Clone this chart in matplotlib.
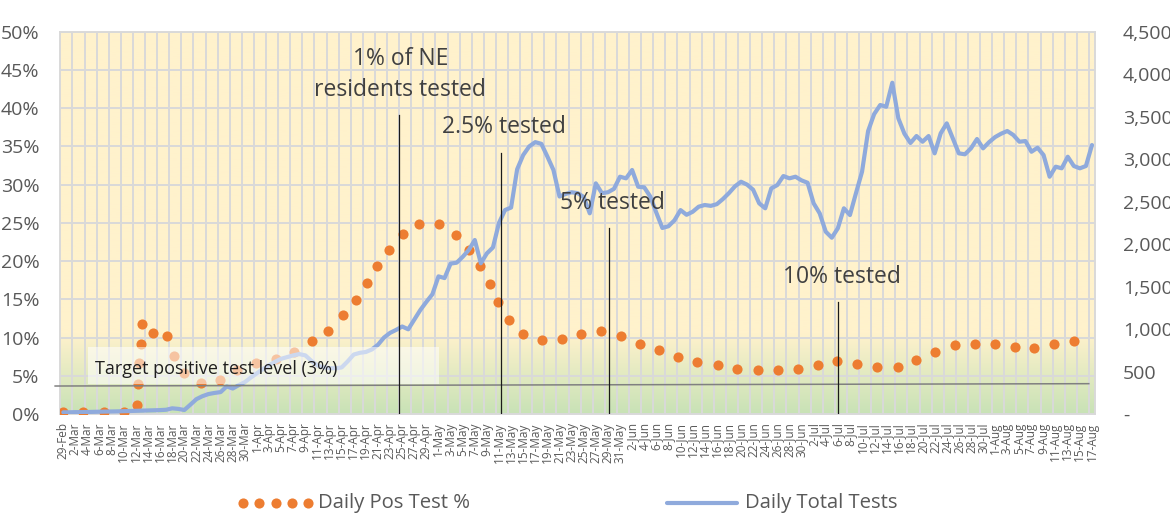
import numpy as np
import pandas as pd
import matplotlib
matplotlib.use('Agg')
import matplotlib.pyplot as plt
from matplotlib.lines import Line2D
from matplotlib.patches import Rectangle
from matplotlib.colors import to_rgb

plt.rcParams['font.family'] = ['Open Sans', 'DejaVu Sans']

# ---------------- data ----------------
dates = pd.date_range('2020-02-29', '2020-08-17', freq='D')
day_labels = [f"{d.day}-{d.strftime('%b')}" for d in dates]

total_tests = [
    20, 20, 22, 22, 24, 25, 27, 28, 30, 31,
    33, 35, 37, 40, 42, 44, 46, 50, 67, 60,
    47, 110, 175, 210, 235, 248, 258, 325, 300, 340,
    375, 430, 480, 530, 575, 615, 650, 670, 690, 705,
    690, 625, 570, 550, 540, 538, 548, 620, 700, 720,
    730, 760, 815, 900, 955, 990, 1030, 997, 1110, 1224,
    1320, 1410, 1620, 1600, 1770, 1781, 1850, 1930, 2048, 1774,
    1891, 1960, 2250, 2401, 2430, 2880, 3048, 3150, 3200, 3180,
    3030, 2872, 2560, 2590, 2610, 2600, 2555, 2362, 2715, 2600,
    2610, 2650, 2793, 2774, 2872, 2675, 2668, 2560, 2370, 2190,
    2210, 2280, 2400, 2345, 2380, 2440, 2460, 2450, 2470, 2530,
    2600, 2680, 2734, 2700, 2640, 2480, 2421, 2656, 2695, 2801,
    2774, 2793, 2750, 2722, 2480, 2362, 2146, 2075, 2186, 2421,
    2342, 2600, 2852, 3330, 3530, 3637, 3617, 3899, 3480, 3300,
    3190, 3272, 3205, 3272, 3068, 3304, 3421, 3245, 3068, 3057,
    3127, 3237, 3127, 3200, 3260, 3300, 3331, 3284, 3205, 3213,
    3087, 3134, 3048, 2793, 2911, 2892, 3028, 2919, 2892, 2919,
    3166,
]

pos_day = [0, 3.3, 6.8, 10.0, 12.1, 12.3, 12.5, 12.8, 13.05, 14.9,
           17.1, 18.3, 20.0, 22.7, 25.9, 28.7, 31.8, 35.1, 38.2, 41.1,
           43.8, 46.2, 48.3, 50.2, 51.9, 53.8, 56.2, 58.8, 62.1, 64.9,
           67.1, 68.9, 70.5, 71.9, 73.6, 75.9, 79.1, 82.4, 85.6, 88.9,
           92.2, 95.3, 98.4, 101.6, 104.8, 108.2, 111.4, 114.8, 118.1, 121.4,
           124.7, 127.9, 131.2, 134.5, 137.9, 141.0, 144.1, 147.3, 150.6, 153.9,
           157.2, 160.5, 163.8, 167.1]
pos_pct = [0.2, 0.2, 0.2, 0.2, 1.2, 3.9, 6.7, 9.2, 11.8, 10.6,
           10.2, 7.6, 5.4, 4.0, 4.4, 5.8, 6.7, 7.2, 8.1, 9.5,
           10.9, 12.9, 14.9, 17.1, 19.3, 21.5, 23.5, 24.9, 24.9, 23.4,
           21.4, 19.3, 17.0, 14.6, 12.3, 10.4, 9.7, 9.8, 10.4, 10.8,
           10.2, 9.2, 8.4, 7.4, 6.8, 6.4, 5.9, 5.7, 5.7, 5.9,
           6.4, 6.9, 6.5, 6.1, 6.2, 7.0, 8.1, 9.0, 9.2, 9.2,
           8.7, 8.6, 9.1, 9.5]

milestone_day = [55.4, 72.3, 90.2, 128.0]
milestone_top = [39.1, 34.2, 24.35, 14.7]
milestone_text = ["1% of NE\nresidents tested", "2.5% tested", "5% tested", "10% tested"]
milestone_text_x = [55.7, 72.8, 90.8, 128.6]
milestone_text_y = [44.4, 37.5, 27.6, 17.9]
target_label = "Target positive test level (3%)"
series_names = ["Daily Pos Test %", "Daily Total Tests"]

ORANGE = '#ED7D31'
BLUE = '#8FAADC'
GRID = '#D9D9D9'
TICK = '#595959'

# ---------------- figure ----------------
W, H = 1170, 521
fig = plt.figure(figsize=(W / 100, H / 100), dpi=100)
ax = fig.add_axes([60.3 / W, 1 - 414 / H, (1095 - 60.3) / W, (414 - 31.7) / H])
n = len(total_tests)

# background gradient (yellow top, green bottom)
yellow = np.array(to_rgb('#FFF2CC'))
green = np.array(to_rgb('#C8E2B6'))
f = np.linspace(0, 1, 500)[:, None]
t = np.clip(f / 0.21, 0, 1)
img = green[None, None, :] * (1 - t)[..., None] + yellow[None, None, :] * t[..., None]
ax.imshow(img, origin='lower', extent=(0, 1, 0, 1), transform=ax.transAxes,
          aspect='auto', zorder=0)
ax.set_xlim(-0.5, n - 0.5)
ax.set_ylim(0, 50)

ax.set_axisbelow(True)
ax.set_yticks(np.arange(0, 51, 5))
ax.set_yticklabels([f"{v}%" for v in range(0, 51, 5)])
ax.yaxis.grid(True, color=GRID, lw=1.4)
ax.set_xticks(np.arange(0, n, 2))
ax.set_xticklabels(day_labels[::2], rotation=90)
ax.set_xticks(np.arange(1.5, n - 1, 2), minor=True)
ax.xaxis.grid(True, which='minor', color=GRID, lw=1.4)
ax.tick_params(which='both', length=0)
ax.tick_params(axis='y', labelsize=14, colors=TICK, pad=15)
ax.tick_params(axis='x', labelsize=8.5, colors=TICK, pad=6)
for s in ax.spines.values():
    s.set_color(GRID)
    s.set_linewidth(1.4)

ax.plot(pos_day, pos_pct, 'o', ms=7.3, color=ORANGE, mec='none', zorder=3)

ax2 = ax.twinx()
ax2.set_ylim(0, 4500)
ax2.set_yticks(np.arange(0, 4501, 500))
ax2.set_yticklabels(['-' if v == 0 else f"{v:,}" for v in range(0, 4501, 500)])
ax2.tick_params(length=0, labelsize=14, colors=TICK, pad=20)
for s in ax2.spines.values():
    s.set_visible(False)
ax2.plot(np.arange(n), total_tests, color=BLUE, lw=3.0, solid_joinstyle='round',
         solid_capstyle='round', zorder=2)

# target box and line
ax2.add_patch(Rectangle((0.0268, 0.0785), 0.339, 0.0975, transform=ax.transAxes,
                        facecolor='white', alpha=0.55, edgecolor='none', zorder=5))
ax2.text(0.0336, 0.1177, target_label, transform=ax.transAxes, fontsize=13,
         color='#1f1f1f', ha='left', va='center', zorder=6)
ax2.add_line(Line2D([-0.005, 0.994], [0.0732, 0.0793], transform=ax.transAxes,
                    color='#808080', lw=1.1, clip_on=False, zorder=6))

# milestones
for d, top, txt, tx, ty in zip(milestone_day, milestone_top, milestone_text,
                               milestone_text_x, milestone_text_y):
    ax2.plot([d, d], [0, top], transform=ax.transData, color='#1a1a1a', lw=0.9, zorder=7)
    ax2.text(tx, ty, txt, transform=ax.transData, ha='center', va='center',
             fontsize=16.5, color='#404040', linespacing=1.35, zorder=8)

# legend (manual)
ly = 1 - 503 / H
fig.add_artist(Line2D(np.array([243, 259.3, 275.6, 291.9, 308.2]) / W, [ly] * 5,
                      marker='o', ls='none', ms=7.3, color=ORANGE, mec='none'))
fig.text(318 / W, ly, series_names[0], fontsize=14.6, color=TICK, ha='left', va='center')
fig.add_artist(Line2D([667 / W, 737 / W], [ly, ly], color=BLUE, lw=3.0,
                      solid_capstyle='round'))
fig.text(745 / W, ly, series_names[1], fontsize=14.6, color=TICK, ha='left', va='center')

fig.savefig('out.png', dpi=100)
